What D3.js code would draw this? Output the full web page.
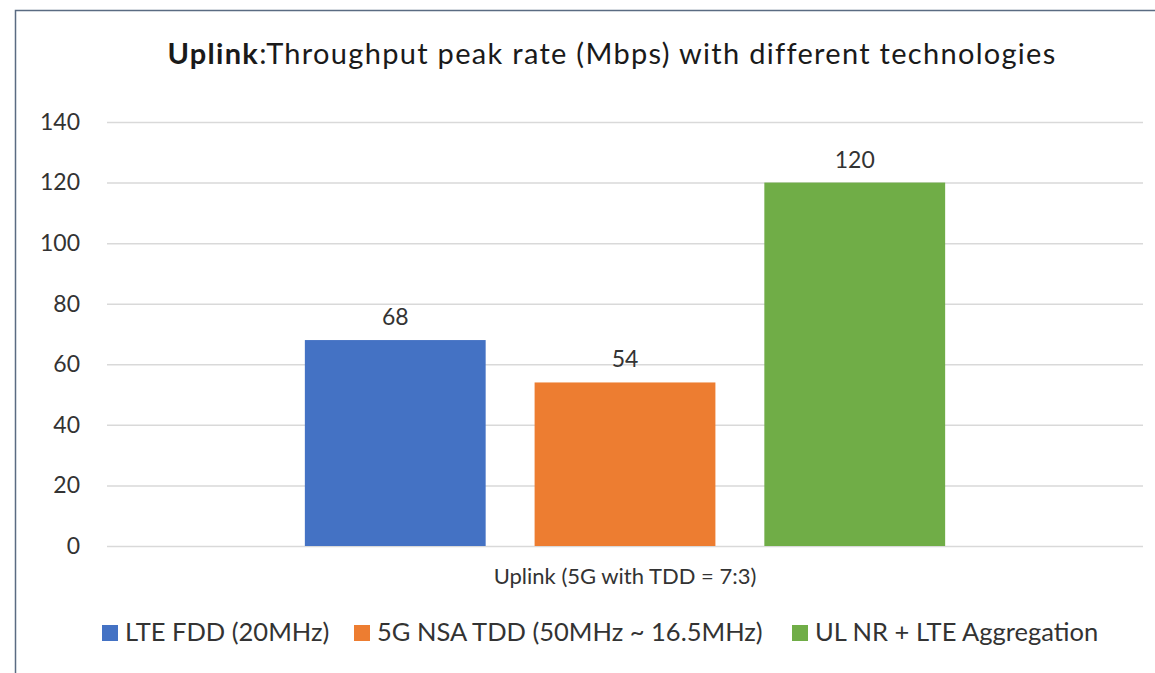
<!DOCTYPE html>
<html><head><meta charset="utf-8">
<script src="https://cdn.jsdelivr.net/npm/d3@7"></script>
<style>body{margin:0;background:#fff;}svg{display:block;}</style>
</head><body>
<svg id="c" width="1155" height="673"></svg>
<script>
const categories = ["Uplink (5G with TDD = 7:3)"];
const seriesNames = ["LTE FDD (20MHz)", "5G NSA TDD (50MHz ~ 16.5MHz)", "UL NR + LTE Aggregation"];
const seriesValues = [68, 54, 120];
const seriesColors = ["#4472C4", "#ED7D31", "#70AD47"];
const yTicks = [0, 20, 40, 60, 80, 100, 120, 140];

const FONT = "Lato, 'Open Sans', sans-serif";
const svg = d3.select("#c");
const W = 1155, H = 673;
const m = {left: 107, right: 12, top: 122, bottom: 127};

// frame (top and left edges visible)
svg.append("path").attr("d", `M15.5,673 L15.5,10.5 L1155,10.5`)
  .attr("fill", "none").attr("stroke", "#5a6b82").attr("stroke-width", 1.5);

// title
const title = svg.append("text").attr("x", 612).attr("y", 64)
  .attr("text-anchor", "middle").attr("font-family", FONT).attr("font-size", 29)
  .attr("letter-spacing", 1.3).attr("fill", "#1a1a1a");
title.append("tspan").attr("font-weight", "bold").text("Uplink");
title.append("tspan").text(":Throughput peak rate (Mbps) with different technologies");

const y = d3.scaleLinear().domain([0, 140]).range([H - m.bottom, m.top]);
const x0 = d3.scaleBand().domain(categories).range([m.left, W - m.right]).paddingInner(0).paddingOuter(0.309);
const x1 = d3.scaleBand().domain(seriesNames).range([0, x0.bandwidth()]).paddingInner(0.213).paddingOuter(0);

// gridlines
const yAxis = d3.axisLeft(y).tickValues(yTicks).tickSize(-(W - m.right - m.left)).tickPadding(27);
const gy = svg.append("g").attr("transform", `translate(${m.left},0)`).call(yAxis);
gy.select(".domain").remove();
gy.selectAll(".tick line").attr("stroke", "#d9d9d9").attr("stroke-width", 1.5);
gy.selectAll(".tick text").attr("font-family", FONT).attr("font-size", 23).attr("fill", "#333");

// bars
const g = svg.append("g");
categories.forEach(cat => {
  seriesNames.forEach((s, i) => {
    g.append("rect")
      .attr("x", x0(cat) + x1(s)).attr("y", y(seriesValues[i]))
      .attr("width", x1.bandwidth()).attr("height", y(0) - y(seriesValues[i]))
      .attr("fill", seriesColors[i]);
    g.append("text")
      .attr("x", x0(cat) + x1(s) + x1.bandwidth() / 2).attr("y", y(seriesValues[i]) - 15)
      .attr("text-anchor", "middle").attr("font-family", FONT).attr("font-size", 23).attr("fill", "#333")
      .text(seriesValues[i]);
  });
  svg.append("text").attr("x", x0(cat) + x0.bandwidth() / 2).attr("y", 584)
    .attr("text-anchor", "middle").attr("font-family", FONT).attr("font-size", 22).attr("fill", "#333")
    .text(cat);
});

// legend
const legX = [102, 354, 792];
const leg = svg.append("g");
seriesNames.forEach((s, i) => {
  leg.append("rect").attr("x", legX[i]).attr("y", 625).attr("width", 16).attr("height", 16).attr("fill", seriesColors[i]);
  leg.append("text").attr("x", legX[i] + 23).attr("y", 641).attr("font-family", FONT).attr("font-size", 25.5)
    .attr("fill", "#333").text(s);
});
</script>
</body></html>
